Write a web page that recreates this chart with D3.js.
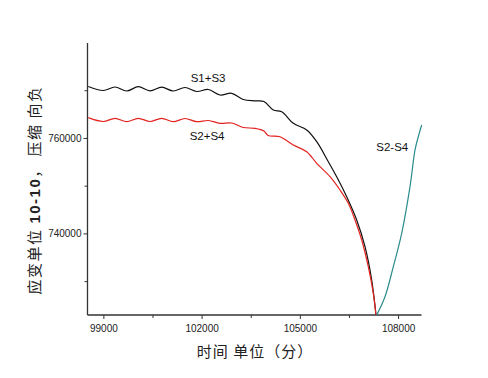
<!DOCTYPE html>
<html>
<head>
<meta charset="utf-8">
<script src="https://cdn.jsdelivr.net/npm/d3@7"></script>
<style>
  body { margin: 0; background: #fff; }
  svg { display: block; }
</style>
</head>
<body>
<div id="chart"></div>
<script>
// time (min) and strain values
const s13Time = [98524, 98983, 99340, 99697, 100051, 100409, 100766, 101120, 101478, 101835, 102189, 102546, 102904, 103258, 103615, 103890, 104174, 104431, 104785, 105194, 105500, 105854, 106110, 106416, 106721, 106975, 107179, 107310];
const s13Value = [770880, 770050, 770780, 769940, 770840, 769980, 770740, 769940, 770670, 769840, 770260, 769100, 769460, 768160, 767890, 767740, 765960, 765600, 763170, 761770, 759320, 755130, 751980, 747790, 742910, 737310, 730330, 723000];

const s24Time = [98524, 98983, 99340, 99697, 100051, 100409, 100766, 101120, 101478, 101835, 102189, 102546, 102904, 103258, 103615, 103890, 104012, 104379, 104785, 105194, 105500, 105906, 106211, 106465, 106669, 106874, 107075, 107228, 107310];
const s24Value = [764350, 763550, 764220, 763510, 764220, 763550, 764220, 763510, 764180, 763510, 763760, 763170, 763240, 762290, 762120, 761560, 760620, 760360, 758620, 757220, 754790, 751980, 749190, 746410, 742910, 738720, 733120, 727550, 723000];

const d24Time = [107332, 107585, 107839, 108095, 108349, 108502, 108602, 108706];
const d24Value = [723000, 726840, 733120, 740120, 749890, 757580, 760360, 762820];

const xTicks = [99000, 102000, 105000, 108000];
const xMinor = [100500, 103500, 106500];
const yTicks = [740000, 760000];
const yMinor = [730000, 750000, 770000];

const width = 488, height = 378;
const svg = d3.select("#chart").append("svg")
    .attr("width", width)
    .attr("height", height);

const x = d3.scaleLinear().domain([98500, 108700]).range([87.5, 421.5]);
const y = d3.scaleLinear().domain([723000, 780000]).range([315, 43]);

const axisColor = "#333";

// x axis
const gx = svg.append("g").attr("transform", `translate(0,${y.range()[0]})`);
gx.append("line").attr("x1", x.range()[0]).attr("x2", x.range()[1])
    .attr("stroke", axisColor).attr("stroke-width", 1.3);
gx.selectAll(".maj").data(xTicks).enter().append("line")
    .attr("x1", d => x(d)).attr("x2", d => x(d)).attr("y1", 0).attr("y2", 4)
    .attr("stroke", axisColor).attr("stroke-width", 1);
gx.selectAll(".min").data(xMinor).enter().append("line")
    .attr("x1", d => x(d)).attr("x2", d => x(d)).attr("y1", 0).attr("y2", 3)
    .attr("stroke", axisColor).attr("stroke-width", 1);
gx.selectAll("text").data(xTicks).enter().append("text")
    .attr("x", d => x(d)).attr("y", 17)
    .attr("text-anchor", "middle")
    .style("font-family", "Liberation Sans, Arial, sans-serif")
    .style("font-size", "10px").style("fill", "#222")
    .text(d => d);

// y axis
const gy = svg.append("g").attr("transform", `translate(${x.range()[0]},0)`);
gy.append("line").attr("y1", y.range()[0]).attr("y2", y.range()[1])
    .attr("stroke", axisColor).attr("stroke-width", 1.3);
gy.selectAll(".maj").data(yTicks).enter().append("line")
    .attr("y1", d => y(d)).attr("y2", d => y(d)).attr("x1", 0).attr("x2", -4)
    .attr("stroke", axisColor).attr("stroke-width", 1);
gy.selectAll(".min").data(yMinor).enter().append("line")
    .attr("y1", d => y(d)).attr("y2", d => y(d)).attr("x1", 0).attr("x2", -3)
    .attr("stroke", axisColor).attr("stroke-width", 1);
gy.selectAll("text").data(yTicks).enter().append("text")
    .attr("x", -6).attr("y", d => y(d) + 3.5)
    .attr("text-anchor", "end")
    .style("font-family", "Liberation Sans, Arial, sans-serif")
    .style("font-size", "10px").style("fill", "#222")
    .text(d => d);

// curves
const line = d3.line().x(d => x(d[0])).y(d => y(d[1])).curve(d3.curveCatmullRom.alpha(0.5));
const series = [
    { t: s13Time, v: s13Value, color: "#111" },
    { t: s24Time, v: s24Value, color: "#e3231f" },
    { t: d24Time, v: d24Value, color: "#2a8c8c" }
];
series.forEach(s => {
    svg.append("path")
        .datum(s.t.map((t, i) => [t, s.v[i]]))
        .attr("d", line)
        .attr("fill", "none")
        .attr("stroke", s.color)
        .attr("stroke-width", 1.2);
});

// curve labels
const labels = [
    { text: "S1+S3", t: 101650, v: 771800 },
    { text: "S2+S4", t: 101620, v: 759700 },
    { text: "S2-S4", t: 107320, v: 757400 }
];
svg.selectAll(".lbl").data(labels).enter().append("text")
    .attr("x", d => x(d.t)).attr("y", d => y(d.v))
    .style("font-family", "Liberation Sans, Arial, sans-serif")
    .style("font-size", "11.5px").style("fill", "#111")
    .text(d => d.text);

// axis titles
svg.append("text")
    .attr("x", 255).attr("y", 357)
    .attr("text-anchor", "middle")
    .style("font-family", "Noto Sans CJK SC, sans-serif")
    .style("font-size", "15px").style("letter-spacing", "1px").style("fill", "#222")
    .text("时间 单位（分）");

const yt = svg.append("text")
    .attr("transform", "translate(40,190) rotate(-90)")
    .attr("text-anchor", "middle")
    .style("font-family", "Noto Sans CJK SC, sans-serif")
    .style("font-size", "15px").style("letter-spacing", "1.5px").style("fill", "#222");
yt.append("tspan").text("应变单位 ");
yt.append("tspan").style("font-family", "Liberation Sans, Arial, sans-serif")
    .style("font-weight", "bold").text("10-10");
yt.append("tspan").text("， 压缩 向负");
</script>
</body>
</html>
